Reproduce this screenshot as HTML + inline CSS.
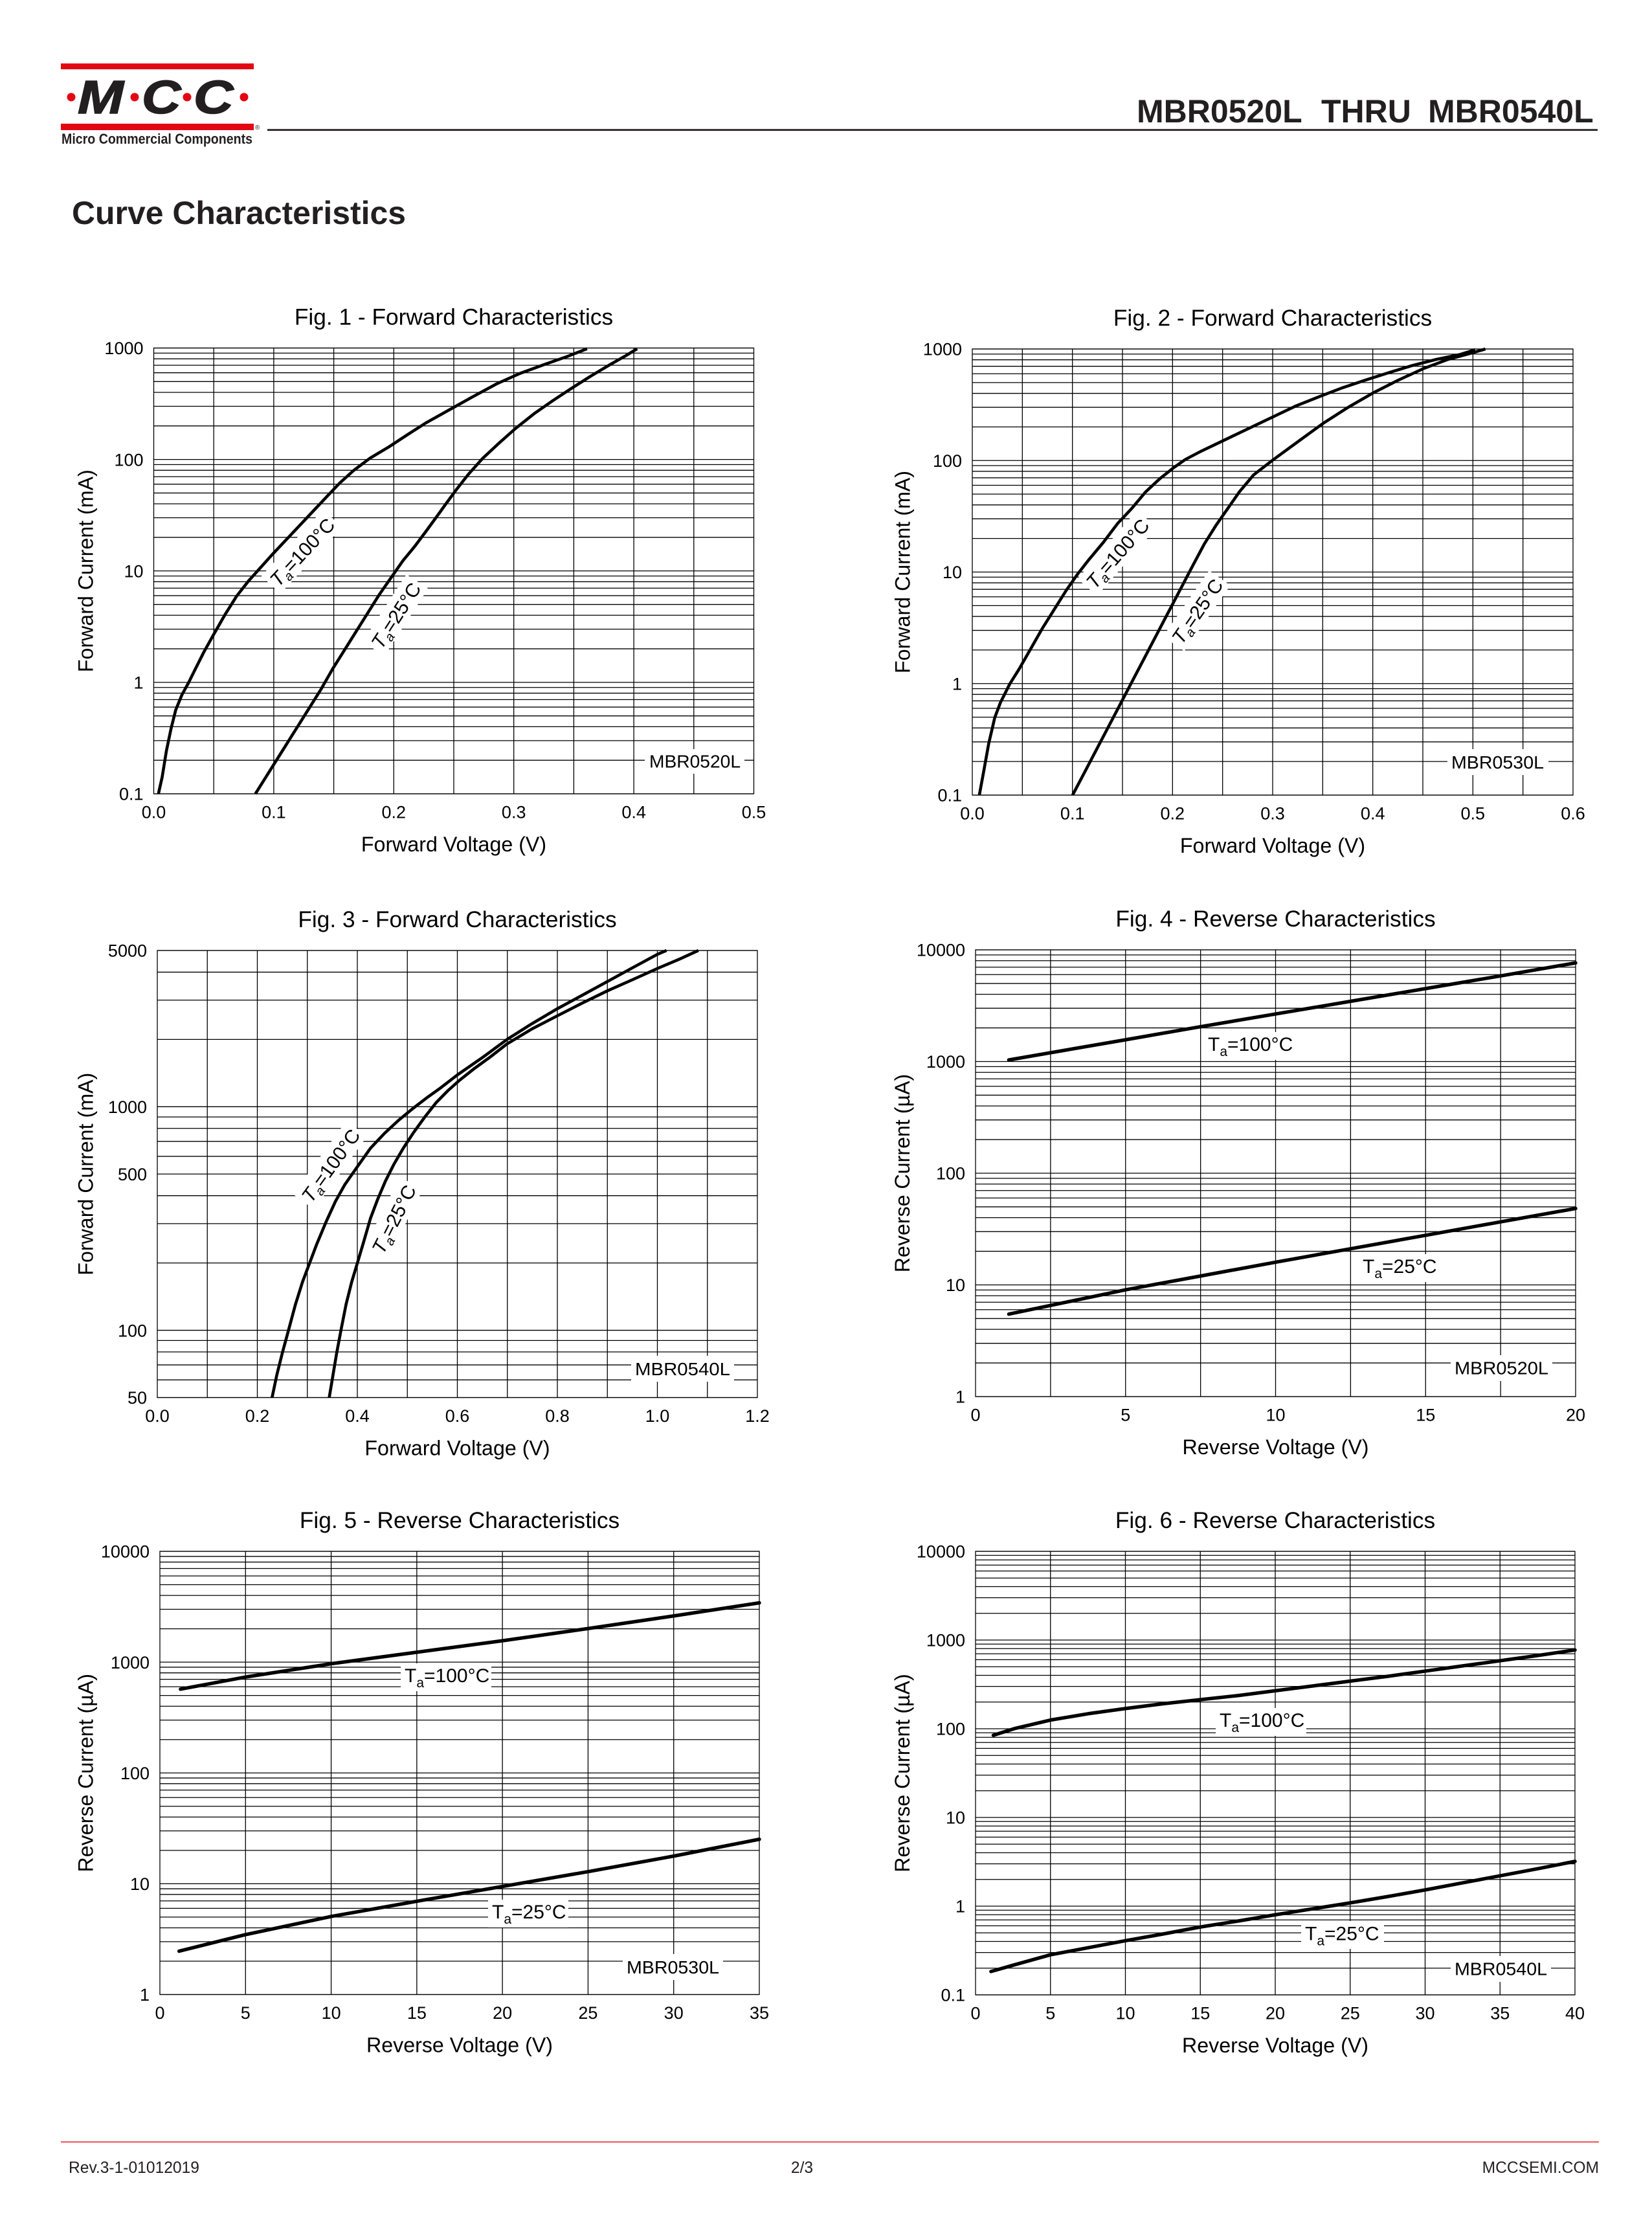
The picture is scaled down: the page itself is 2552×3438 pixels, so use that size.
<!DOCTYPE html>
<html>
<head>
<meta charset="utf-8">
<style>
html,body{margin:0;padding:0;background:#fff;}
body{width:2552px;height:3438px;overflow:hidden;}
svg{display:block;}
text{font-family:"Liberation Sans",Arial,sans-serif;fill:#000;}
.g{fill:none;stroke:#000;stroke-width:1.3;}
.c{fill:none;stroke:#000;stroke-width:4.6;stroke-linejoin:round;stroke-linecap:butt;}
.r{fill:none;stroke:#000;stroke-width:5.4;stroke-linejoin:round;stroke-linecap:round;}
.t{font-size:35.3px;text-anchor:middle;}
.ax{font-size:32.2px;text-anchor:middle;}
.tk{font-size:27px;text-anchor:middle;}
.ty{font-size:27px;text-anchor:end;}
.mb{font-size:28px;}
.lb{font-size:30px;}
.logo{font-size:72px;font-weight:bold;font-style:italic;fill:#231f20;stroke:#231f20;stroke-width:1.6;}
</style>
</head>
<body>
<svg width="2552" height="3438" viewBox="0 0 2552 3438" xmlns="http://www.w3.org/2000/svg">
<rect x="0" y="0" width="2552" height="3438" fill="#fff"/>

<!-- ===== HEADER ===== -->
<rect x="94" y="98" width="298" height="9" fill="#e30613"/>
<circle cx="110" cy="150" r="6.5" fill="#e30613"/>
<circle cx="208" cy="150" r="6.5" fill="#e30613"/>
<circle cx="289" cy="150" r="6.5" fill="#e30613"/>
<circle cx="377" cy="150" r="6.5" fill="#e30613"/>
<text class="logo" transform="translate(120,175) scale(1.18,1)">M</text>
<text class="logo" transform="translate(219,175) scale(1.16,1)">C</text>
<text class="logo" transform="translate(299,175) scale(1.18,1)">C</text>
<rect x="94" y="191" width="298" height="10" fill="#e30613"/>
<text x="394" y="200" style="font-size:10px;fill:#231f20">®</text>
<text x="95" y="222" textLength="295" lengthAdjust="spacingAndGlyphs" style="font-size:22px;font-weight:bold;fill:#231f20">Micro Commercial Components</text>
<rect x="413" y="199.3" width="2055" height="2.8" fill="#231f20"/>
<text x="1756" y="189" style="font-size:50px;font-weight:bold;fill:#231f20">MBR0520L</text>
<text x="2041" y="189" style="font-size:50px;font-weight:bold;fill:#231f20">THRU</text>
<text x="2206" y="189" style="font-size:50px;font-weight:bold;fill:#231f20">MBR0540L</text>
<text x="111" y="346" textLength="516" lengthAdjust="spacingAndGlyphs" style="font-size:50px;font-weight:bold;fill:#231f20">Curve Characteristics</text>

<!-- ===== FIG 1 ===== -->
<svg x="237.5" y="537.5" width="927" height="688.5" viewBox="0 0 1 4" preserveAspectRatio="none" overflow="visible">
<path class="g" vector-effect="non-scaling-stroke" d="M0 0H1M0 .04576H1M0 .09691H1M0 .1549H1M0 .22185H1M0 .30103H1M0 .39794H1M0 .52288H1M0 .69897H1M0 1H1M0 1.04576H1M0 1.09691H1M0 1.1549H1M0 1.22185H1M0 1.30103H1M0 1.39794H1M0 1.52288H1M0 1.69897H1M0 2H1M0 2.04576H1M0 2.09691H1M0 2.1549H1M0 2.22185H1M0 2.30103H1M0 2.39794H1M0 2.52288H1M0 2.69897H1M0 3H1M0 3.04576H1M0 3.09691H1M0 3.1549H1M0 3.22185H1M0 3.30103H1M0 3.39794H1M0 3.52288H1M0 3.69897H1M0 4H1"/>
<path class="g" vector-effect="non-scaling-stroke" d="M.1 0V4M.2 0V4M.3 0V4M.4 0V4M.5 0V4M.6 0V4M.7 0V4M.8 0V4M.9 0V4"/>
<rect class="g" vector-effect="non-scaling-stroke" x="0" y="0" width="1" height="4"/>
</svg>
<rect x="996" y="1157" width="154" height="38" fill="#fff"/>
<text class="mb" x="1003" y="1185.6" textLength="141" lengthAdjust="spacingAndGlyphs">MBR0520L</text>
<g transform="translate(466.9,852.7) rotate(-47)"><rect x="-70" y="-21" width="140" height="40" fill="#fff"/></g>
<g transform="translate(611.6,950.6) rotate(-57)"><rect x="-62" y="-21" width="124" height="40" fill="#fff"/></g>
<svg x="237.5" y="537.5" width="927" height="688.5" viewBox="218 170 1281 1195" preserveAspectRatio="none" overflow="visible">
<polyline class="c" vector-effect="non-scaling-stroke" points="228,1365 236,1320 245,1250 255,1190 265,1140 278,1100 292,1068 305,1035 325,985 345,940 370,885 395,835 420,795 445,760 470,725 500,685 530,645 560,605 590,565 615,532 645,498 680,465 720,435 760,402 800,370 850,335 900,300 950,266 1000,238 1050,215 1100,193 1143,172"/>
<polyline class="c" vector-effect="non-scaling-stroke" points="435,1365 455,1325 475,1285 500,1235 525,1185 550,1135 575,1085 600,1030 625,980 650,930 675,880 700,830 725,785 750,740 775,702 800,660 825,617 845,582 865,548 890,508 920,466 955,425 990,386 1030,346 1070,311 1110,278 1150,246 1190,216 1225,191 1250,172"/>
</svg>
<g transform="translate(466.9,852.7) rotate(-47)"><text class="lb" x="0" y="10.7" text-anchor="middle"><tspan font-style="italic">T</tspan><tspan font-style="italic" font-size="20" dy="6">a</tspan><tspan dy="-6">=100°C</tspan></text></g>
<g transform="translate(611.6,950.6) rotate(-57)"><text class="lb" x="0" y="10.7" text-anchor="middle"><tspan font-style="italic">T</tspan><tspan font-style="italic" font-size="20" dy="6">a</tspan><tspan dy="-6">=25°C</tspan></text></g>
<text class="t" x="701" y="501.5">Fig. 1 - Forward Characteristics</text>
<text class="ax" x="701" y="1315">Forward Voltage (V)</text>
<text class="ax" transform="translate(143.5,881.75) rotate(-90)">Forward Current (mA)</text>
<text class="tk" x="237.5" y="1263.5">0.0</text><text class="tk" x="422.9" y="1263.5">0.1</text><text class="tk" x="608.3" y="1263.5">0.2</text><text class="tk" x="793.7" y="1263.5">0.3</text><text class="tk" x="979.1" y="1263.5">0.4</text><text class="tk" x="1164.5" y="1263.5">0.5</text>
<text class="ty" x="221.5" y="547.2">1000</text><text class="ty" x="221.5" y="719.3">100</text><text class="ty" x="221.5" y="891.5">10</text><text class="ty" x="221.5" y="1063.6">1</text><text class="ty" x="221.5" y="1235.7">0.1</text>

<!-- ===== FIG 2 ===== -->
<svg x="1502" y="539" width="928" height="689" viewBox="0 0 1 4" preserveAspectRatio="none" overflow="visible">
<path class="g" vector-effect="non-scaling-stroke" d="M0 0H1M0 .04576H1M0 .09691H1M0 .1549H1M0 .22185H1M0 .30103H1M0 .39794H1M0 .52288H1M0 .69897H1M0 1H1M0 1.04576H1M0 1.09691H1M0 1.1549H1M0 1.22185H1M0 1.30103H1M0 1.39794H1M0 1.52288H1M0 1.69897H1M0 2H1M0 2.04576H1M0 2.09691H1M0 2.1549H1M0 2.22185H1M0 2.30103H1M0 2.39794H1M0 2.52288H1M0 2.69897H1M0 3H1M0 3.04576H1M0 3.09691H1M0 3.1549H1M0 3.22185H1M0 3.30103H1M0 3.39794H1M0 3.52288H1M0 3.69897H1M0 4H1"/>
<path class="g" vector-effect="non-scaling-stroke" d="M.08333 0V4M.16667 0V4M.25 0V4M.33333 0V4M.41667 0V4M.5 0V4M.58333 0V4M.66667 0V4M.75 0V4M.83333 0V4M.91667 0V4"/>
<rect class="g" vector-effect="non-scaling-stroke" x="0" y="0" width="1" height="4"/>
</svg>
<rect x="2236" y="1157" width="156" height="40" fill="#fff"/>
<text class="mb" x="2242" y="1187" textLength="143" lengthAdjust="spacingAndGlyphs">MBR0530L</text>
<g transform="translate(1726.4,854.9) rotate(-49)"><rect x="-70" y="-21" width="140" height="40" fill="#fff"/></g>
<g transform="translate(1849.5,944) rotate(-55)"><rect x="-62" y="-21" width="124" height="40" fill="#fff"/></g>
<svg x="1502" y="539" width="928" height="689" viewBox="210 172 1282 1196" preserveAspectRatio="none" overflow="visible">
<polyline class="c" vector-effect="non-scaling-stroke" points="225,1368 235,1300 245,1230 258,1160 270,1120 290,1070 310,1030 335,975 360,920 385,870 410,820 435,775 460,735 490,690 520,640 550,600 580,555 610,520 640,490 665,468 700,445 750,415 800,385 850,355 900,325 950,300 1000,276 1050,255 1100,235 1150,216 1200,200 1250,187 1283,174"/>
<polyline class="c" vector-effect="non-scaling-stroke" points="424,1368 450,1306 475,1246 500,1186 530,1114 560,1042 590,970 620,898 650,826 680,754 705,695 730,645 755,600 780,555 810,510 851,470 900,425 958,372 1010,330 1065,290 1120,255 1172,225 1225,200 1278,182 1305,172"/>
</svg>
<g transform="translate(1726.4,854.9) rotate(-49)"><text class="lb" x="0" y="10.7" text-anchor="middle"><tspan font-style="italic">T</tspan><tspan font-style="italic" font-size="20" dy="6">a</tspan><tspan dy="-6">=100°C</tspan></text></g>
<g transform="translate(1849.5,944) rotate(-55)"><text class="lb" x="0" y="10.7" text-anchor="middle"><tspan font-style="italic">T</tspan><tspan font-style="italic" font-size="20" dy="6">a</tspan><tspan dy="-6">=25°C</tspan></text></g>
<text class="t" x="1966" y="503">Fig. 2 - Forward Characteristics</text>
<text class="ax" x="1966" y="1317">Forward Voltage (V)</text>
<text class="ax" transform="translate(1405.5,883.5) rotate(-90)">Forward Current (mA)</text>
<text class="tk" x="1502" y="1265.5">0.0</text><text class="tk" x="1656.7" y="1265.5">0.1</text><text class="tk" x="1811.3" y="1265.5">0.2</text><text class="tk" x="1966" y="1265.5">0.3</text><text class="tk" x="2120.7" y="1265.5">0.4</text><text class="tk" x="2275.3" y="1265.5">0.5</text><text class="tk" x="2430" y="1265.5">0.6</text>
<text class="ty" x="1486" y="548.7">1000</text><text class="ty" x="1486" y="721">100</text><text class="ty" x="1486" y="893.2">10</text><text class="ty" x="1486" y="1065.5">1</text><text class="ty" x="1486" y="1237.7">0.1</text>

<!-- ===== FIG 3 ===== -->
<svg x="243" y="1468" width="927" height="690.5" viewBox="0 0 1 2" preserveAspectRatio="none" overflow="visible">
<path class="g" vector-effect="non-scaling-stroke" d="M0 0H1M0 .09691H1M0 .22185H1M0 .39794H1M0 .69897H1M0 .74473H1M0 .79588H1M0 .85387H1M0 .92082H1M0 1H1M0 1.09691H1M0 1.22185H1M0 1.39794H1M0 1.69897H1M0 1.74473H1M0 1.79588H1M0 1.85387H1M0 1.92082H1M0 2H1"/>
<path class="g" vector-effect="non-scaling-stroke" d="M.08333 0V2M.16667 0V2M.25 0V2M.33333 0V2M.41667 0V2M.5 0V2M.58333 0V2M.66667 0V2M.75 0V2M.83333 0V2M.91667 0V2"/>
<rect class="g" vector-effect="non-scaling-stroke" x="0" y="0" width="1" height="2"/>
</svg>
<rect x="975" y="2094" width="159" height="40" fill="#fff"/>
<text class="mb" x="981" y="2123.8" textLength="147" lengthAdjust="spacingAndGlyphs">MBR0540L</text>
<g transform="translate(510.8,1800.1) rotate(-54)"><rect x="-70" y="-21" width="140" height="40" fill="#fff"/></g>
<g transform="translate(608.4,1883) rotate(-63)"><rect x="-62" y="-21" width="124" height="40" fill="#fff"/></g>
<svg x="243" y="1468" width="927" height="690.5" viewBox="225 162 1281 1198" preserveAspectRatio="none" overflow="visible">
<polyline class="c" vector-effect="non-scaling-stroke" points="470,1360 480,1300 492,1240 505,1180 520,1110 535,1050 550,1000 565,950 585,890 605,835 625,790 650,745 680,692 710,652 740,617 770,586 800,557 830,530 866,495 920,448 972,400 1025,358 1079,318 1132,282 1186,245 1240,208 1293,172 1312,162"/>
<polyline class="c" vector-effect="non-scaling-stroke" points="592,1360 600,1300 608,1240 617,1180 628,1110 640,1050 652,1000 665,945 680,880 695,830 712,780 730,735 750,692 772,650 795,610 820,570 845,538 870,510 900,480 935,448 972,412 1025,372 1079,337 1132,303 1186,270 1240,240 1293,210 1340,185 1380,162"/>
</svg>
<g transform="translate(510.8,1800.1) rotate(-54)"><text class="lb" x="0" y="10.7" text-anchor="middle"><tspan font-style="italic">T</tspan><tspan font-style="italic" font-size="20" dy="6">a</tspan><tspan dy="-6">=100°C</tspan></text></g>
<g transform="translate(608.4,1883) rotate(-63)"><text class="lb" x="0" y="10.7" text-anchor="middle"><tspan font-style="italic">T</tspan><tspan font-style="italic" font-size="20" dy="6">a</tspan><tspan dy="-6">=25°C</tspan></text></g>
<text class="t" x="706.5" y="1432">Fig. 3 - Forward Characteristics</text>
<text class="ax" x="706.5" y="2247.5">Forward Voltage (V)</text>
<text class="ax" transform="translate(143.5,1813.25) rotate(-90)">Forward Current (mA)</text>
<text class="tk" x="243" y="2196">0.0</text><text class="tk" x="397.5" y="2196">0.2</text><text class="tk" x="552" y="2196">0.4</text><text class="tk" x="706.5" y="2196">0.6</text><text class="tk" x="861" y="2196">0.8</text><text class="tk" x="1015.5" y="2196">1.0</text><text class="tk" x="1170" y="2196">1.2</text>
<text class="ty" x="227" y="1477.7">5000</text><text class="ty" x="227" y="1719">1000</text><text class="ty" x="227" y="1823">500</text><text class="ty" x="227" y="2064.3">100</text><text class="ty" x="227" y="2168.2">50</text>

<!-- ===== FIG 4 ===== -->
<svg x="1507" y="1467" width="927" height="690" viewBox="0 0 1 4" preserveAspectRatio="none" overflow="visible">
<path class="g" vector-effect="non-scaling-stroke" d="M0 0H1M0 .04576H1M0 .09691H1M0 .1549H1M0 .22185H1M0 .30103H1M0 .39794H1M0 .52288H1M0 .69897H1M0 1H1M0 1.04576H1M0 1.09691H1M0 1.1549H1M0 1.22185H1M0 1.30103H1M0 1.39794H1M0 1.52288H1M0 1.69897H1M0 2H1M0 2.04576H1M0 2.09691H1M0 2.1549H1M0 2.22185H1M0 2.30103H1M0 2.39794H1M0 2.52288H1M0 2.69897H1M0 3H1M0 3.04576H1M0 3.09691H1M0 3.1549H1M0 3.22185H1M0 3.30103H1M0 3.39794H1M0 3.52288H1M0 3.69897H1M0 4H1"/>
<path class="g" vector-effect="non-scaling-stroke" d="M.125 0V4M.25 0V4M.375 0V4M.5 0V4M.625 0V4M.75 0V4M.875 0V4"/>
<rect class="g" vector-effect="non-scaling-stroke" x="0" y="0" width="1" height="4"/>
</svg>
<rect x="2241" y="2093" width="157" height="40" fill="#fff"/>
<text class="mb" x="2247" y="2122.3" textLength="145" lengthAdjust="spacingAndGlyphs">MBR0520L</text>
<rect x="1860" y="1594" width="140" height="43" fill="#fff"/>
<rect x="2099" y="1937" width="120" height="43" fill="#fff"/>
<svg x="1507" y="1467" width="927" height="690" viewBox="217 160 1281 1197" preserveAspectRatio="none" overflow="visible">
<polyline class="r" vector-effect="non-scaling-stroke" points="288,455 537,401 697,366 857,332 1017,298 1177,264 1337,230 1498,195"/>
<polyline class="r" vector-effect="non-scaling-stroke" points="288,1136 537,1071 697,1034 857,997 1017,961 1177,925 1337,889 1498,853"/>
</svg>
<text class="lb" x="1866" y="1623"><tspan>T</tspan><tspan font-size="21" dy="8">a</tspan><tspan dy="-8">=100°C</tspan></text>
<text class="lb" x="2105" y="1966"><tspan>T</tspan><tspan font-size="21" dy="8">a</tspan><tspan dy="-8">=25°C</tspan></text>
<text class="t" x="1970.5" y="1431">Fig. 4 - Reverse Characteristics</text>
<text class="ax" x="1970.5" y="2246">Reverse Voltage (V)</text>
<text class="ax" transform="translate(1405,1812) rotate(-90)">Reverse Current (µA)</text>
<text class="tk" x="1507" y="2194.5">0</text><text class="tk" x="1738.75" y="2194.5">5</text><text class="tk" x="1970.5" y="2194.5">10</text><text class="tk" x="2202.25" y="2194.5">15</text><text class="tk" x="2434" y="2194.5">20</text>
<text class="ty" x="1491" y="1476.7">10000</text><text class="ty" x="1491" y="1649.2">1000</text><text class="ty" x="1491" y="1821.7">100</text><text class="ty" x="1491" y="1994.2">10</text><text class="ty" x="1491" y="2166.7">1</text>

<!-- ===== FIG 5 ===== -->
<svg x="247" y="2396" width="926" height="684.5" viewBox="0 0 1 4" preserveAspectRatio="none" overflow="visible">
<path class="g" vector-effect="non-scaling-stroke" d="M0 0H1M0 .04576H1M0 .09691H1M0 .1549H1M0 .22185H1M0 .30103H1M0 .39794H1M0 .52288H1M0 .69897H1M0 1H1M0 1.04576H1M0 1.09691H1M0 1.1549H1M0 1.22185H1M0 1.30103H1M0 1.39794H1M0 1.52288H1M0 1.69897H1M0 2H1M0 2.04576H1M0 2.09691H1M0 2.1549H1M0 2.22185H1M0 2.30103H1M0 2.39794H1M0 2.52288H1M0 2.69897H1M0 3H1M0 3.04576H1M0 3.09691H1M0 3.1549H1M0 3.22185H1M0 3.30103H1M0 3.39794H1M0 3.52288H1M0 3.69897H1M0 4H1"/>
<path class="g" vector-effect="non-scaling-stroke" d="M.14286 0V4M.28571 0V4M.42857 0V4M.57143 0V4M.71429 0V4M.85714 0V4"/>
<rect class="g" vector-effect="non-scaling-stroke" x="0" y="0" width="1" height="4"/>
</svg>
<rect x="962" y="3018" width="155" height="40" fill="#fff"/>
<text class="mb" x="968" y="3048" textLength="143" lengthAdjust="spacingAndGlyphs">MBR0530L</text>
<rect x="619" y="2569" width="140" height="43" fill="#fff"/>
<rect x="754" y="2934" width="124" height="43" fill="#fff"/>
<svg x="247" y="2396" width="926" height="684.5" viewBox="231 156 1280 1196" preserveAspectRatio="none" overflow="visible">
<polyline class="r" vector-effect="non-scaling-stroke" points="275,528 415,495 598,459 781,428 964,397 1147,364 1330,330 1511,295"/>
<polyline class="r" vector-effect="non-scaling-stroke" points="272,1235 415,1190 598,1141 781,1100 964,1060 1147,1020 1330,978 1511,933"/>
</svg>
<text class="lb" x="625" y="2598"><tspan>T</tspan><tspan font-size="21" dy="8">a</tspan><tspan dy="-8">=100°C</tspan></text>
<text class="lb" x="760" y="2963"><tspan>T</tspan><tspan font-size="21" dy="8">a</tspan><tspan dy="-8">=25°C</tspan></text>
<text class="t" x="710" y="2360">Fig. 5 - Reverse Characteristics</text>
<text class="ax" x="710" y="3169.5">Reverse Voltage (V)</text>
<text class="ax" transform="translate(143.5,2738.25) rotate(-90)">Reverse Current (µA)</text>
<text class="tk" x="247" y="3118">0</text><text class="tk" x="379.3" y="3118">5</text><text class="tk" x="511.6" y="3118">10</text><text class="tk" x="643.9" y="3118">15</text><text class="tk" x="776.1" y="3118">20</text><text class="tk" x="908.4" y="3118">25</text><text class="tk" x="1040.7" y="3118">30</text><text class="tk" x="1173" y="3118">35</text>
<text class="ty" x="231" y="2405.7">10000</text><text class="ty" x="231" y="2576.8">1000</text><text class="ty" x="231" y="2748">100</text><text class="ty" x="231" y="2919.1">10</text><text class="ty" x="231" y="3090.2">1</text>

<!-- ===== FIG 6 ===== -->
<svg x="1507" y="2396" width="926" height="685" viewBox="0 0 1 5" preserveAspectRatio="none" overflow="visible">
<path class="g" vector-effect="non-scaling-stroke" d="M0 0H1M0 .04576H1M0 .09691H1M0 .1549H1M0 .22185H1M0 .30103H1M0 .39794H1M0 .52288H1M0 .69897H1M0 1H1M0 1.04576H1M0 1.09691H1M0 1.1549H1M0 1.22185H1M0 1.30103H1M0 1.39794H1M0 1.52288H1M0 1.69897H1M0 2H1M0 2.04576H1M0 2.09691H1M0 2.1549H1M0 2.22185H1M0 2.30103H1M0 2.39794H1M0 2.52288H1M0 2.69897H1M0 3H1M0 3.04576H1M0 3.09691H1M0 3.1549H1M0 3.22185H1M0 3.30103H1M0 3.39794H1M0 3.52288H1M0 3.69897H1M0 4H1M0 4.04576H1M0 4.09691H1M0 4.1549H1M0 4.22185H1M0 4.30103H1M0 4.39794H1M0 4.52288H1M0 4.69897H1M0 5H1"/>
<path class="g" vector-effect="non-scaling-stroke" d="M.125 0V5M.25 0V5M.375 0V5M.5 0V5M.625 0V5M.75 0V5M.875 0V5"/>
<rect class="g" vector-effect="non-scaling-stroke" x="0" y="0" width="1" height="5"/>
</svg>
<rect x="2241" y="3021" width="155" height="40" fill="#fff"/>
<text class="mb" x="2247" y="3050.6" textLength="143" lengthAdjust="spacingAndGlyphs">MBR0540L</text>
<rect x="1878" y="2638" width="140" height="43" fill="#fff"/>
<rect x="2010" y="2967" width="128" height="43" fill="#fff"/>
<svg x="1507" y="2396" width="926" height="685" viewBox="217 157 1280 1196" preserveAspectRatio="none" overflow="visible">
<polyline class="r" vector-effect="non-scaling-stroke" points="255,653 300,635 377,612 457,595 537,581 617,568 697,557 777,546 857,533 937,520 1017,507 1097,494 1177,480 1257,466 1337,452 1417,438 1497,423"/>
<polyline class="r" vector-effect="non-scaling-stroke" points="250,1290 300,1272 377,1245 457,1226 537,1207 617,1189 697,1170 777,1154 857,1137 937,1121 1017,1105 1097,1088 1177,1070 1257,1051 1337,1032 1417,1013 1497,993"/>
</svg>
<text class="lb" x="1884" y="2667"><tspan>T</tspan><tspan font-size="21" dy="8">a</tspan><tspan dy="-8">=100°C</tspan></text>
<text class="lb" x="2016" y="2996.5"><tspan>T</tspan><tspan font-size="21" dy="8">a</tspan><tspan dy="-8">=25°C</tspan></text>
<text class="t" x="1970" y="2360">Fig. 6 - Reverse Characteristics</text>
<text class="ax" x="1970" y="3170">Reverse Voltage (V)</text>
<text class="ax" transform="translate(1405,2738.5) rotate(-90)">Reverse Current (µA)</text>
<text class="tk" x="1507" y="3118.5">0</text><text class="tk" x="1622.75" y="3118.5">5</text><text class="tk" x="1738.5" y="3118.5">10</text><text class="tk" x="1854.25" y="3118.5">15</text><text class="tk" x="1970" y="3118.5">20</text><text class="tk" x="2085.75" y="3118.5">25</text><text class="tk" x="2201.5" y="3118.5">30</text><text class="tk" x="2317.25" y="3118.5">35</text><text class="tk" x="2433" y="3118.5">40</text>
<text class="ty" x="1491" y="2405.7">10000</text><text class="ty" x="1491" y="2542.7">1000</text><text class="ty" x="1491" y="2679.7">100</text><text class="ty" x="1491" y="2816.7">10</text><text class="ty" x="1491" y="2953.7">1</text><text class="ty" x="1491" y="3090.7">0.1</text>

<!-- ===== FOOTER ===== -->
<rect x="94" y="3307" width="2376" height="2.4" fill="#ec6a72"/>
<text x="106" y="3356" style="font-size:24.6px;fill:#231f20">Rev.3-1-01012019</text>
<text x="1239" y="3356" text-anchor="middle" style="font-size:24.6px;fill:#231f20">2/3</text>
<text x="2470" y="3356" text-anchor="end" style="font-size:24.6px;fill:#231f20">MCCSEMI.COM</text>
</svg>
</body>
</html>
